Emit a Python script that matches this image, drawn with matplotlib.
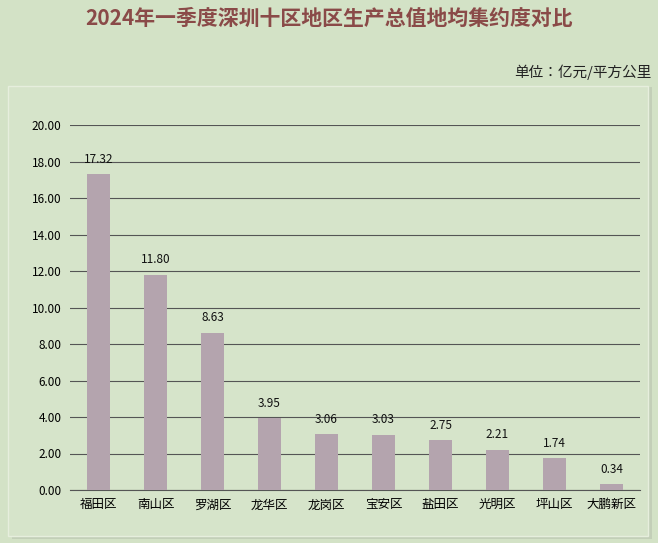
import matplotlib
matplotlib.use("Agg")
import matplotlib.pyplot as plt
from matplotlib import font_manager as fm
from matplotlib.patches import Rectangle

cjk = None
for f in fm.findSystemFonts():
    n = f.lower()
    if "cjk" in n and ("sc" in n or "notosanscjk" in n):
        try:
            fm.fontManager.addfont(f)
            cjk = fm.FontProperties(fname=f).get_name()
            if "SC" in cjk:
                break
        except Exception:
            pass
plt.rcParams["font.family"] = [cjk or "Noto Sans CJK SC", "DejaVu Sans"]

districts = ["福田区", "南山区", "罗湖区", "龙华区", "龙岗区", "宝安区", "盐田区", "光明区", "坪山区", "大鹏新区"]
values = [17.32, 11.80, 8.63, 3.95, 3.06, 3.03, 2.75, 2.21, 1.74, 0.34]
yticks = [0, 2, 4, 6, 8, 10, 12, 14, 16, 18, 20]

fig = plt.figure(figsize=(6.58, 5.43), dpi=100)
fig.patch.set_facecolor("#d3e2c6")

fig.patches.append(Rectangle((12/658, 4/543), 640/658, 452/543, transform=fig.transFigure,
                             facecolor="#c3cfb8", edgecolor="none", zorder=-2))
fig.patches.append(Rectangle((8/658, 7/543), 640/658, 450/543, transform=fig.transFigure,
                             facecolor="#d6e4ca", edgecolor="#e6eedd", lw=1, zorder=-1))

ax = fig.add_axes([70/658, 1-490/543, 570/658, 365/543])
ax.set_zorder(2)
ax.set_facecolor("none")
x = range(len(districts))
ax.bar(x, values, width=0.42, color="#b4a4ae", zorder=3)
for xi, v in zip(x, values):
    ax.text(xi, v + 0.45, f"{v:.2f}", ha="center", va="bottom", fontsize=8.5, color="#111111")
ax.set_ylim(0, 20)
ax.set_xlim(-0.5, len(districts) - 0.5)
ax.set_yticks(yticks)
ax.set_yticklabels([f"{t:.2f}" for t in yticks], fontsize=8.5)
ax.set_xticks(list(x))
ax.set_xticklabels(districts, fontsize=9)
ax.grid(axis="y", color="#555555", lw=0.8, zorder=0)
for s in ["top", "right", "left"]:
    ax.spines[s].set_visible(False)
ax.spines["bottom"].set_color("#555555")
ax.tick_params(length=0, pad=6)

fig.text(0.5, 1-18/543, "2024年一季度深圳十区地区生产总值地均集约度对比", ha="center", va="center",
         fontsize=15, color="#8a4a48", fontweight="bold")
fig.text(652/658, 1-72/543, "单位：亿元/平方公里", ha="right", va="center", fontsize=10.5, color="#222222")

fig.savefig("out.png", dpi=100, facecolor=fig.get_facecolor())
